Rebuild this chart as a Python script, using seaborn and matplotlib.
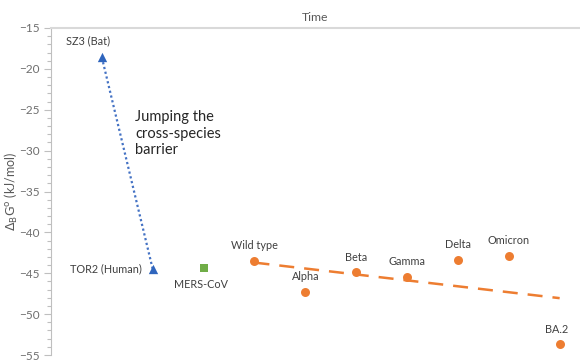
import numpy as np
import pandas as pd
import matplotlib
matplotlib.use("Agg")
import matplotlib.pyplot as plt
from matplotlib.ticker import MultipleLocator
import seaborn as sns

# Binding free energies, ordered along the time axis
names = ["SZ3 (Bat)", "TOR2 (Human)", "MERS-CoV", "Wild type", "Alpha",
         "Beta", "Gamma", "Delta", "Omicron", "BA.2"]
order = [1, 2, 3, 4, 5, 6, 7, 8, 9, 10]
dg = [-18.6, -44.5, -44.4, -43.5, -47.3, -44.9, -45.4, -43.4, -42.9, -53.7]
group = ["sars", "sars", "mers", "cov2", "cov2", "cov2", "cov2", "cov2", "cov2", "cov2"]
y_ticks = [-15, -20, -25, -30, -35, -40, -45, -50, -55]

df = pd.DataFrame({"name": names, "t": order, "dg": dg, "group": group})
sars = df[df.group == "sars"]
mers = df[df.group == "mers"]
cov2 = df[df.group == "cov2"]

sns.set_style("white")
plt.rcParams["font.family"] = ["Lato", "DejaVu Sans"]

BLUE = "#2F65BD"
BLUE_LINE = "#4472C4"
ORANGE = "#ED7D31"
GREEN = "#70AD47"
GREY_TXT = "#595959"

fig = plt.figure(figsize=(5.8, 3.61), dpi=100)
ax = fig.add_axes([51 / 580, 6 / 361, 529 / 580, 327 / 361])

# dotted jump between bat and human SARS-CoV
sns.lineplot(data=sars, x="t", y="dg", ax=ax, color=BLUE_LINE, lw=1.6,
             linestyle=(0, (1, 1.2)), sort=False, zorder=2)
# linear trend across SARS-CoV-2 variants
sns.regplot(data=cov2, x="t", y="dg", ax=ax, ci=None, scatter=False,
            truncate=True,
            line_kws=dict(color=ORANGE, lw=1.8, linestyle=(0, (6, 4)), zorder=2))

sns.scatterplot(data=sars, x="t", y="dg", ax=ax, marker="^", s=45,
                color=BLUE, edgecolor=BLUE, linewidth=0, zorder=3)
sns.scatterplot(data=mers, x="t", y="dg", ax=ax, marker="s", s=36,
                color=GREEN, edgecolor=GREEN, linewidth=0, zorder=3)
sns.scatterplot(data=cov2, x="t", y="dg", ax=ax, marker="o", s=42,
                color=ORANGE, edgecolor=ORANGE, linewidth=0, zorder=3)

# point labels: offset in points and alignment per label
offsets = {
    "SZ3 (Bat)": (-10, 8, "center", "bottom"),
    "TOR2 (Human)": (-8, 0, "right", "center"),
    "MERS-CoV": (-2, -8, "center", "top"),
    "Wild type": (0, 7, "center", "bottom"),
    "Alpha": (0, 7, "center", "bottom"),
    "Beta": (0, 7, "center", "bottom"),
    "Gamma": (0, 7, "center", "bottom"),
    "Delta": (0, 7, "center", "bottom"),
    "Omicron": (0, 7, "center", "bottom"),
    "BA.2": (-2, 7, "center", "bottom"),
}
for _, r in df.iterrows():
    dx, dy, ha, va = offsets[r["name"]]
    ax.annotate(r["name"], (r["t"], r["dg"]), xytext=(dx, dy),
                textcoords="offset points", ha=ha, va=va,
                fontsize=7.8, color="#404040")

ax.annotate("Jumping the\ncross-species\nbarrier", xy=(135, 361 - 110),
            xycoords="figure pixels", ha="left", va="top",
            fontsize=10.5, color="#262626", linespacing=1.25)

ax.set_xlim(0, 10.4)
ax.set_ylim(-55, -15)
ax.set_yticks(y_ticks)
ax.yaxis.set_minor_locator(MultipleLocator(1))
ax.set_xticks([])
ax.xaxis.set_label_position("top")
ax.set_xlabel("Time", fontsize=8.8, color=GREY_TXT, labelpad=5)
ax.set_ylabel(r"$\Delta_\mathrm{B}\mathrm{G}^\mathrm{o}$ (kJ/mol)", fontsize=9,
              color=GREY_TXT, va="center")
ax.yaxis.set_label_coords(-40 / 529, 0.5)

ax.tick_params(axis="y", which="major", direction="out", length=5, width=0.8,
               color="#BFBFBF", labelcolor="#6E6E6E", labelsize=8.5, left=True,
               pad=3)
ax.tick_params(axis="y", which="minor", direction="out", length=3, width=0.8,
               color="#BFBFBF", left=True)

for side in ["right", "bottom"]:
    ax.spines[side].set_visible(False)
ax.spines["top"].set_color("#D9D9D9")
ax.spines["top"].set_linewidth(1.5)
ax.spines["left"].set_color("#BFBFBF")
ax.spines["left"].set_linewidth(0.8)

fig.savefig("out.png", dpi=100)
